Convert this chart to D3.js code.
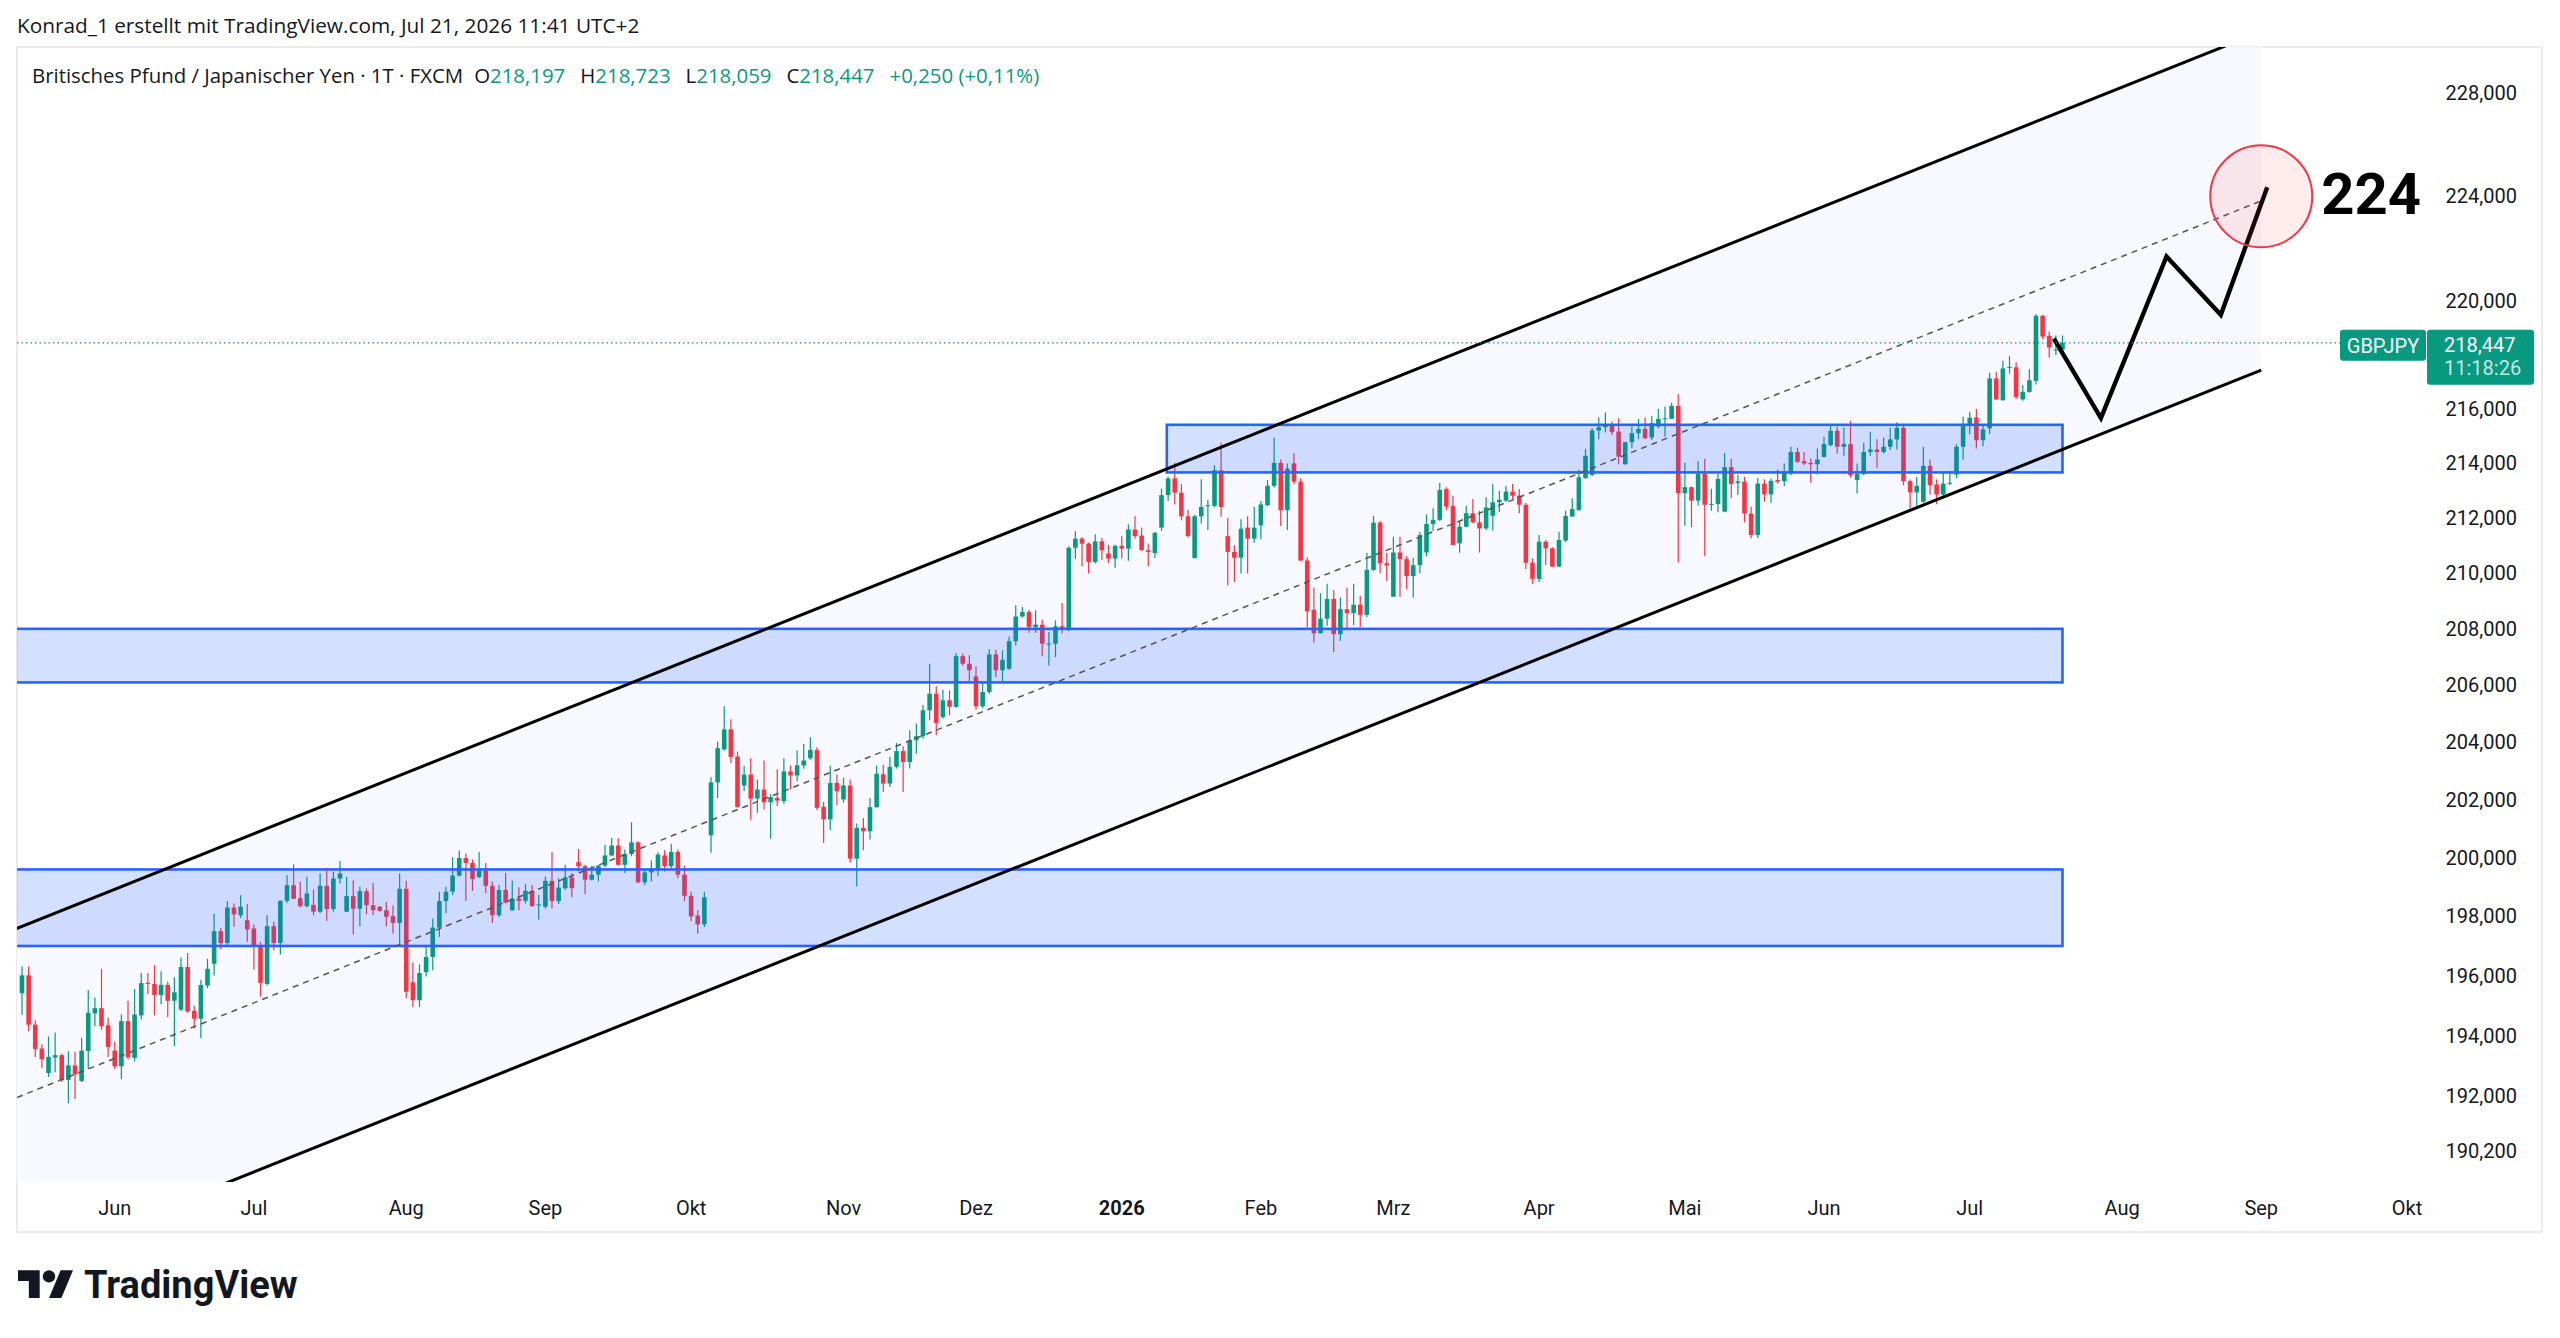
<!DOCTYPE html>
<html>
<head>
<meta charset="utf-8">
<script src="https://cdn.jsdelivr.net/npm/d3@7"></script>
<style>
  html, body { margin: 0; padding: 0; background: #fff; }
  svg { display: block; font-family: Roboto, "Noto Sans", sans-serif; }
</style>
</head>
<body>
<div id="chart"></div>
<script>
// ---- data (daily GBPJPY candles, one per trading day from startDate) ----
const startDate = "2025-05-13";
const holidays = ["2025-12-25", "2026-01-01"];

const opens = [
  195.41,196.01,194.36,193.57,192.76,193.27,193.35,192.53,193.01,192.50,
  193.49,194.74,194.91,194.34,193.50,192.98,194.48,193.26,194.67,195.76,
  195.72,195.35,195.69,195.16,194.86,196.29,194.82,194.56,195.67,196.40,
  197.50,197.10,198.30,198.04,197.87,197.59,196.97,195.72,197.67,197.10,
  198.53,199.06,198.62,198.35,198.39,198.16,199.04,198.25,199.29,198.16,
  198.69,198.26,198.86,198.38,198.33,198.21,198.01,197.78,198.94,195.78,
  195.18,196.12,196.63,197.62,198.52,
  198.84,199.39,199.99,199.82,199.34,199.56,199.04,198.04,198.90,198.21,
  198.61,198.53,198.87,198.38,198.33,199.21,198.52,198.96,199.33,199.85,
  199.71,199.25,199.42,199.73,200.08,200.42,199.76,200.13,200.53,199.16,
  199.50,199.59,200.08,199.71,200.20,199.42,198.70,198.03,197.73,200.77,
  202.60,203.75,204.45,203.50,202.49,202.87,202.04,202.35,201.91,202.06,
  201.95,202.98,202.84,203.19,203.44,203.73,201.75,201.32,202.58,202.01,
  202.49,199.97,201.03,200.91,201.74,
  202.88,202.56,203.14,203.69,203.31,204.07,204.21,205.12,205.70,204.88,
  205.47,205.24,207.03,206.76,206.31,205.26,205.76,207.09,206.53,206.58,
  207.56,208.44,208.60,208.06,208.15,207.47,207.47,208.09,207.95,210.91,
  211.24,211.06,210.40,211.14,210.70,210.52,210.98,210.88,211.57,211.35,
  210.82,210.72,211.64,212.82,213.43,212.91,212.05,210.54,212.05,212.43,
  212.43,213.73,211.33,210.76,210.55,211.64,211.24,211.72,212.45,213.16,
  214.00,212.27,213.98,213.31,210.45,
  208.68,207.84,208.36,209.07,207.81,208.70,208.56,208.86,208.50,210.11,
  211.82,210.35,209.15,210.74,210.50,209.89,210.28,210.74,211.77,211.92,
  213.04,212.43,211.07,211.67,212.16,211.83,211.61,212.07,212.56,212.62,
  212.95,212.80,212.47,210.37,209.79,211.13,210.89,210.23,211.17,212.04,
  212.28,213.44,213.56,215.19,215.31,215.42,215.15,213.95,214.76,215.09,
  215.25,214.93,215.34,215.62,215.62,216.10,212.89,213.11,212.62,213.60,
  212.47,212.50,212.22,213.84,213.26,
  213.31,212.15,211.37,213.24,212.85,213.37,213.33,213.61,214.40,214.06,
  214.00,213.95,214.22,214.65,215.18,214.59,214.69,213.37,213.59,214.40,
  214.49,214.40,214.59,214.86,215.29,213.33,212.92,212.58,213.89,213.21,
  212.84,213.24,213.57,214.59,215.39,215.67,214.83,215.27,217.12,216.31,
  217.53,217.53,216.34,216.62,217.03,219.46,218.71,218.18,218.197
];
const highs = [
  196.31,196.31,194.50,193.71,193.97,194.10,193.40,193.48,193.46,193.93,
  195.52,195.27,196.23,194.59,193.80,194.70,195.16,195.55,196.09,196.09,
  196.35,196.15,195.80,195.95,196.61,196.76,194.99,195.86,196.57,198.10,
  197.61,198.52,198.44,198.72,198.42,197.73,197.14,198.04,197.82,198.55,
  199.40,199.78,199.18,199.35,198.92,199.46,199.65,199.52,199.89,199.35,
  199.23,199.01,198.95,199.14,198.35,198.50,198.37,199.46,199.21,196.44,
  196.38,196.99,197.93,198.84,199.01,
  200.02,200.25,200.14,199.94,200.20,199.82,199.19,199.07,199.48,199.22,
  198.99,199.11,199.07,198.73,199.36,200.20,199.30,199.76,199.48,200.30,
  199.76,199.71,199.76,200.45,200.68,200.68,200.28,201.22,200.57,199.59,
  199.91,200.19,200.26,200.48,200.28,199.73,198.84,198.21,198.84,202.79,
  204.02,205.26,204.80,203.67,203.18,203.44,202.70,203.36,202.20,203.06,
  203.44,203.19,203.71,203.94,204.17,203.82,201.92,203.19,202.87,202.75,
  202.70,201.18,201.37,202.06,203.19,
  203.20,203.49,203.97,203.86,204.42,204.65,205.30,206.76,205.96,205.84,
  205.82,207.14,207.12,207.06,206.67,206.15,207.27,207.26,207.24,207.73,
  208.84,208.78,208.68,208.66,208.33,207.89,208.30,208.92,210.96,211.51,
  211.30,211.10,211.40,211.27,211.02,211.02,211.33,211.76,212.05,211.64,
  211.06,211.48,213.06,213.49,214.00,213.22,212.29,212.11,213.40,212.64,
  213.91,214.74,212.00,211.00,211.94,212.05,212.39,212.61,213.37,214.93,
  214.12,213.98,214.35,213.43,210.57,
  209.48,209.27,209.61,209.39,209.13,209.48,209.61,209.18,210.73,212.06,
  211.88,210.73,211.31,211.31,210.61,210.55,211.49,212.12,212.34,213.26,
  213.11,212.80,211.86,212.43,212.68,212.25,212.74,213.22,212.98,213.16,
  213.23,213.04,212.53,210.53,211.37,211.19,210.93,211.49,212.25,212.71,
  213.75,214.51,215.27,215.68,215.85,215.52,215.64,214.78,215.34,215.61,
  215.68,215.73,215.99,216.08,216.22,216.54,214.00,213.14,214.06,214.15,
  213.05,213.60,214.36,214.15,213.56,
  213.49,212.40,213.45,213.39,213.43,213.76,213.98,214.59,214.56,214.40,
  214.16,214.53,214.96,215.41,215.33,215.30,215.54,213.98,214.74,215.14,
  214.87,214.93,215.30,215.49,215.35,213.39,213.49,214.59,214.12,213.39,
  213.63,213.71,214.69,215.70,215.88,215.98,215.39,217.33,217.37,217.78,
  217.95,217.72,216.87,217.46,219.53,219.49,218.87,218.72,218.723
];
const lows = [
  194.68,194.14,193.29,192.92,192.63,192.78,192.46,191.76,191.90,192.46,
  192.89,194.31,194.19,193.29,192.89,192.55,193.21,193.14,194.53,195.38,
  194.67,195.04,194.61,193.65,194.82,194.76,194.23,193.91,195.58,196.01,
  196.88,196.97,197.65,197.95,197.14,196.20,195.29,195.67,196.85,196.71,
  198.46,198.58,198.30,198.30,198.04,198.12,197.85,198.16,199.12,198.16,
  197.39,197.67,198.07,198.04,198.16,197.67,197.42,196.97,195.24,194.95,
  194.95,195.97,196.18,197.31,198.12,
  198.73,199.36,198.53,198.87,199.30,198.79,197.78,197.98,198.44,198.19,
  198.21,198.44,198.33,197.89,198.27,198.27,198.42,198.90,198.65,199.53,
  198.75,199.22,199.19,199.68,200.05,199.73,199.48,200.05,199.13,199.07,
  199.19,199.38,199.53,199.65,199.30,198.52,197.84,197.41,197.64,200.17,
  202.06,203.71,203.27,201.72,202.29,201.29,201.55,201.66,200.65,201.78,
  201.86,202.35,202.64,203.07,203.39,201.64,200.51,200.95,201.81,201.89,
  199.84,199.02,200.26,200.63,201.72,
  202.27,202.44,203.08,202.27,203.08,203.60,204.12,204.77,204.24,204.82,
  204.94,205.21,206.70,206.11,205.14,205.20,205.70,206.29,206.15,206.55,
  207.41,208.40,207.86,207.86,207.03,206.70,207.00,207.83,207.92,210.51,
  210.24,209.98,210.34,210.48,210.36,210.19,210.52,210.44,211.24,210.80,
  210.24,210.54,211.52,212.61,212.48,211.91,211.28,210.52,211.79,211.55,
  212.37,212.03,209.56,209.68,209.98,209.98,211.09,211.21,212.42,213.10,
  211.70,211.55,213.22,210.42,208.06,
  207.51,207.84,208.11,207.17,207.58,208.02,208.14,208.06,208.42,210.07,
  209.99,209.71,209.15,209.15,209.42,209.12,209.99,210.59,211.52,211.88,
  212.28,210.99,210.73,211.65,211.80,210.74,211.55,211.53,212.20,212.58,
  212.67,212.16,210.14,209.61,209.67,210.29,210.21,210.21,211.11,212.04,
  212.25,213.42,213.52,214.87,215.12,215.02,213.95,213.93,214.54,214.87,
  214.87,214.84,215.27,214.96,215.61,210.37,211.71,211.65,212.44,210.61,
  212.25,212.20,212.20,212.71,212.83,
  211.83,211.25,211.25,212.58,212.54,213.24,213.15,213.55,214.00,213.92,
  213.27,213.57,214.20,214.61,214.34,214.26,213.46,212.88,213.55,214.26,
  213.82,214.34,214.47,214.49,213.18,212.33,212.42,212.54,212.84,212.49,
  212.76,213.18,213.43,214.12,215.04,214.53,214.61,215.06,216.31,216.29,
  217.30,216.35,216.29,216.59,216.89,218.58,217.89,217.99,218.059
];
const closes = [
  196.01,194.36,193.55,193.21,193.29,193.35,192.52,193.01,192.72,193.50,
  194.76,194.91,194.31,193.62,192.98,194.48,193.28,194.70,195.75,195.72,
  195.35,195.69,195.16,195.44,196.29,194.80,194.56,195.69,196.23,197.50,
  197.10,198.30,198.07,198.33,197.56,196.97,195.76,197.67,197.10,198.53,
  199.06,198.60,198.35,198.78,198.16,199.04,198.25,199.29,199.46,198.69,
  198.26,198.86,198.38,198.21,198.19,197.99,197.78,198.94,195.46,195.18,
  196.09,196.63,197.62,198.52,198.84,
  199.39,199.99,199.82,199.27,199.56,199.04,198.04,198.90,198.47,198.61,
  198.53,198.87,198.35,198.41,199.21,198.52,198.98,199.33,198.96,199.71,
  199.25,199.42,199.73,200.08,200.42,199.76,200.13,200.53,199.16,199.50,
  199.59,200.11,199.71,200.20,199.42,198.70,198.00,197.73,198.65,202.60,
  203.79,204.45,203.48,201.75,202.87,202.04,202.35,201.91,202.09,201.97,
  202.98,202.84,203.19,203.36,203.73,201.72,201.32,202.58,202.29,202.49,
  199.97,201.03,200.91,201.74,202.90,
  202.56,203.14,203.69,203.31,204.07,204.21,205.12,205.70,204.67,205.47,
  205.24,207.03,206.76,206.53,205.26,205.76,207.09,206.53,206.90,207.56,
  208.44,208.60,208.06,208.15,207.47,207.48,208.09,207.98,210.91,211.24,
  211.06,210.40,211.14,210.82,210.52,210.98,210.88,211.57,211.33,210.82,
  210.76,211.45,212.82,213.43,212.91,212.05,211.33,212.05,212.39,212.45,
  213.73,212.39,210.76,210.55,211.60,211.24,211.64,212.48,213.16,214.00,
  212.27,213.79,213.31,210.45,208.62,
  207.84,208.36,209.07,207.81,208.70,208.56,208.86,208.50,210.11,211.82,
  210.35,210.27,210.74,210.50,209.89,210.28,211.37,211.77,211.92,213.01,
  212.40,211.01,211.67,212.16,211.83,211.61,212.37,212.56,212.65,212.95,
  212.80,212.47,210.37,209.79,211.13,210.89,210.23,211.19,212.06,212.31,
  213.47,214.26,215.19,215.31,215.42,215.13,214.23,214.76,215.09,215.25,
  214.91,215.46,215.62,215.64,216.10,212.89,213.11,212.62,213.60,212.47,
  212.50,213.41,213.84,213.23,213.32,
  212.15,211.37,213.24,212.85,213.34,213.31,213.63,214.40,214.04,213.98,
  213.95,214.12,214.69,215.18,214.59,214.69,213.55,213.59,214.40,214.49,
  214.40,214.59,214.86,215.29,213.33,212.92,213.16,213.89,213.18,212.84,
  213.24,213.27,214.59,215.39,215.66,214.83,215.23,217.12,216.34,217.49,
  217.55,216.43,216.62,217.05,219.46,218.68,218.27,218.197,218.447
];

// axis labels
const monthLabels = ["Jun", "Jul", "Aug", "Sep", "Okt", "Nov", "Dez", "2026", "Feb",
                     "Mrz", "Apr", "Mai", "Jun", "Jul", "Aug", "Sep", "Okt"];
const priceTicks = [190.2, 192, 194, 196, 198, 200, 202, 204, 206, 208, 210, 212, 214, 216, 220, 224, 228];

// drawings (bar index / price)
const zoneFrom = [-10, -10, 172.8];
const zoneTo = [308, 308, 308];
const zoneLow = [197.0, 206.1, 213.65];
const zoneHigh = [199.6, 208.0, 215.4];

const channelIdx = [-10, 338];
const channelUpper = [196.77, 230.41];
const channelLower = [185.69, 217.43];

const forecastIdx = [306.7, 313.8, 323.7, 331.9, 338.9];
const forecastPrice = [218.6, 215.65, 221.7, 219.5, 224.35];
const targetIdx = 338;
const targetPrice = 224;

const symbol = "GBPJPY";
const countdown = "11:18:26";

// ---- layout ----
const W = 2560, H = 1338;
const paneL = 17, paneT = 47, paneR = 2427, paneB = 1182;
const frameR = 2542, frameB = 1232;
const UP = "#089981", DOWN = "#f23645", INK = "#131722";
const HEAD_FONT = '"Open Sans", Roboto, sans-serif';

// 1. trading-day calendar (weekdays without holidays)
function buildDays(n) {
  const skip = new Set(holidays);
  const out = [];
  const d = new Date(startDate + "T12:00:00Z");
  while (out.length < n) {
    const wd = d.getUTCDay();
    if (wd !== 0 && wd !== 6 && !skip.has(d.toISOString().slice(0, 10))) out.push(new Date(d));
    d.setUTCDate(d.getUTCDate() + 1);
  }
  return out;
}
const days = buildDays(372);

const fmt = v => d3.format(".3f")(v).replace(".", ",");

// 2. scales
const x = d3.scaleLinear().domain([0, 360]).range([22, 22 + 360 * 6.625]);
const y = d3.scaleLog().domain([190.2, 228]).range([1151, 93]);

const svg = d3.select("#chart").append("svg")
  .attr("width", W).attr("height", H);
svg.append("rect").attr("width", W).attr("height", H).attr("fill", "#fff");

svg.append("defs").append("clipPath").attr("id", "pane")
  .append("rect")
  .attr("x", paneL).attr("y", paneT)
  .attr("width", paneR - paneL).attr("height", paneB - paneT);

// frame
svg.append("rect")
  .attr("x", paneL).attr("y", paneT)
  .attr("width", frameR - paneL).attr("height", frameB - paneT)
  .attr("fill", "none").attr("stroke", "#ebebeb").attr("stroke-width", 2);

const pane = svg.append("g").attr("clip-path", "url(#pane)");

// 3. channel fill
const up = channelIdx.map((d, k) => [x(d), y(channelUpper[k])]);
const lo = channelIdx.map((d, k) => [x(d), y(channelLower[k])]);
const mid = channelIdx.map((d, k) => [x(d), y(Math.sqrt(channelUpper[k] * channelLower[k]))]);
pane.append("path")
  .attr("d", d3.line()([up[0], up[1], lo[1], lo[0]]) + "Z")
  .attr("fill", "#f8f9fe");

// 4. candles
const candles = opens.map((o, i) => ({ i, o, h: highs[i], l: lows[i], c: closes[i] }));
const cg = pane.append("g").selectAll("g")
  .data(candles).enter().append("g");
cg.append("line")
  .attr("x1", d => x(d.i)).attr("x2", d => x(d.i))
  .attr("y1", d => y(d.h)).attr("y2", d => y(d.l))
  .attr("stroke", d => d.c >= d.o ? UP : DOWN)
  .attr("stroke-width", 1.2);
cg.append("rect")
  .attr("x", d => x(d.i) - 2.3)
  .attr("width", 4.6)
  .attr("y", d => y(Math.max(d.o, d.c)))
  .attr("height", d => Math.max(1, Math.abs(y(d.o) - y(d.c))))
  .attr("fill", d => d.c >= d.o ? UP : DOWN);

// 5. zones
zoneLow.forEach((v, k) => {
  pane.append("rect")
    .attr("x", x(zoneFrom[k])).attr("y", y(zoneHigh[k]))
    .attr("width", x(zoneTo[k]) - x(zoneFrom[k]))
    .attr("height", y(zoneLow[k]) - y(zoneHigh[k]))
    .attr("fill", "rgba(41,98,255,0.2)")
    .attr("stroke", "#2962ff").attr("stroke-width", 2.6);
});

// 6. channel lines
pane.append("path").attr("d", d3.line()(up))
  .attr("stroke", "#000").attr("stroke-width", 3).attr("fill", "none");
pane.append("path").attr("d", d3.line()(lo))
  .attr("stroke", "#000").attr("stroke-width", 3).attr("fill", "none");
pane.append("path").attr("d", d3.line()(mid))
  .attr("stroke", "#555").attr("stroke-width", 1.5)
  .attr("stroke-dasharray", "6 5").attr("fill", "none");

// 7. last price line
const last = candles[candles.length - 1];
const prev = candles[candles.length - 2];
const yLast = y(last.c);
svg.append("line")
  .attr("x1", paneL).attr("x2", 2340)
  .attr("y1", yLast).attr("y2", yLast)
  .attr("stroke", UP).attr("stroke-width", 1.2)
  .attr("stroke-dasharray", "1.5 3");

// 8. forecast path + target
pane.append("path")
  .attr("d", d3.line()(forecastIdx.map((d, k) => [x(d), y(forecastPrice[k])])))
  .attr("stroke", "#000").attr("stroke-width", 4.4)
  .attr("fill", "none").attr("stroke-linejoin", "miter");
pane.append("circle")
  .attr("cx", x(targetIdx)).attr("cy", y(targetPrice)).attr("r", 51)
  .attr("fill", "rgba(242,54,69,0.1)")
  .attr("stroke", DOWN).attr("stroke-width", 2);
pane.append("text")
  .attr("x", x(targetIdx) + 60).attr("y", y(targetPrice) + 18)
  .attr("font-size", 58).attr("font-weight", 700).attr("fill", "#000")
  .text(d3.format("d")(targetPrice));

// 9. price axis
svg.append("g").selectAll("text")
  .data(priceTicks).enter().append("text")
  .attr("x", 2517).attr("y", d => y(d) + 7)
  .attr("text-anchor", "end").attr("font-size", 20).attr("fill", INK)
  .text(fmt);

// last price labels
svg.append("rect").attr("x", 2340).attr("y", yLast - 13).attr("width", 86).attr("height", 31)
  .attr("rx", 3).attr("fill", UP);
svg.append("text").attr("x", 2383).attr("y", yLast + 10).attr("text-anchor", "middle")
  .attr("font-size", 20).attr("fill", "#fff").text(symbol);
svg.append("rect").attr("x", 2427).attr("y", yLast - 13).attr("width", 107).attr("height", 55)
  .attr("rx", 3).attr("fill", UP);
svg.append("text").attr("x", 2444).attr("y", yLast + 9)
  .attr("font-size", 20).attr("fill", "#fff").text(fmt(last.c));
svg.append("text").attr("x", 2444).attr("y", yLast + 32)
  .attr("font-size", 20).attr("fill", "rgba(255,255,255,0.78)").text(countdown);

// 10. time axis
const monthStarts = [];
for (let i = 1; i < days.length; i++) {
  if (days[i].getUTCMonth() !== days[i - 1].getUTCMonth()) monthStarts.push(i);
}
svg.append("g").selectAll("text")
  .data(monthLabels).enter().append("text")
  .attr("x", (d, k) => x(monthStarts[k]))
  .attr("y", 1215)
  .attr("text-anchor", "middle").attr("font-size", 20).attr("fill", INK)
  .attr("font-weight", d => /^\d+$/.test(d) ? 700 : 400)
  .text(d => d);

// 11. header
svg.append("text").attr("x", 17).attr("y", 33)
  .attr("font-family", HEAD_FONT).attr("font-size", 20.8).attr("fill", INK)
  .text("Konrad_1 erstellt mit TradingView.com, Jul 21, 2026 11:41 UTC+2");

const legend = svg.append("text").attr("x", 32).attr("y", 83)
  .attr("font-family", HEAD_FONT).attr("font-size", 20.4).attr("fill", INK);
legend.append("tspan").text("Britisches Pfund / Japanischer Yen · 1T · FXCM");
[["O", last.o], ["H", last.h], ["L", last.l], ["C", last.c]].forEach((p, k) => {
  legend.append("tspan").attr("dx", k === 0 ? 11 : 15).text(p[0]);
  legend.append("tspan").attr("fill", UP).text(fmt(p[1]));
});
const chg = last.c - prev.c;
legend.append("tspan").attr("dx", 15).attr("fill", UP)
  .text((chg >= 0 ? "+" : "") + fmt(chg) + " (" + (chg >= 0 ? "+" : "") +
        d3.format(".2f")(chg / prev.c * 100).replace(".", ",") + "%)");

// 12. logo
const logo = svg.append("g").attr("transform", "translate(18,1264) scale(1.55)").attr("fill", INK);
logo.append("path").attr("d", "M0 4H14V22H7V11H0Z");
logo.append("circle").attr("cx", 20).attr("cy", 8).attr("r", 4);
logo.append("path").attr("d", "M20 22L27.5 4H35.5L28 22Z");
svg.append("text").attr("x", 84).attr("y", 1298)
  .attr("font-size", 38).attr("font-weight", 700).attr("fill", INK)
  .text("TradingView");
</script>
</body>
</html>
